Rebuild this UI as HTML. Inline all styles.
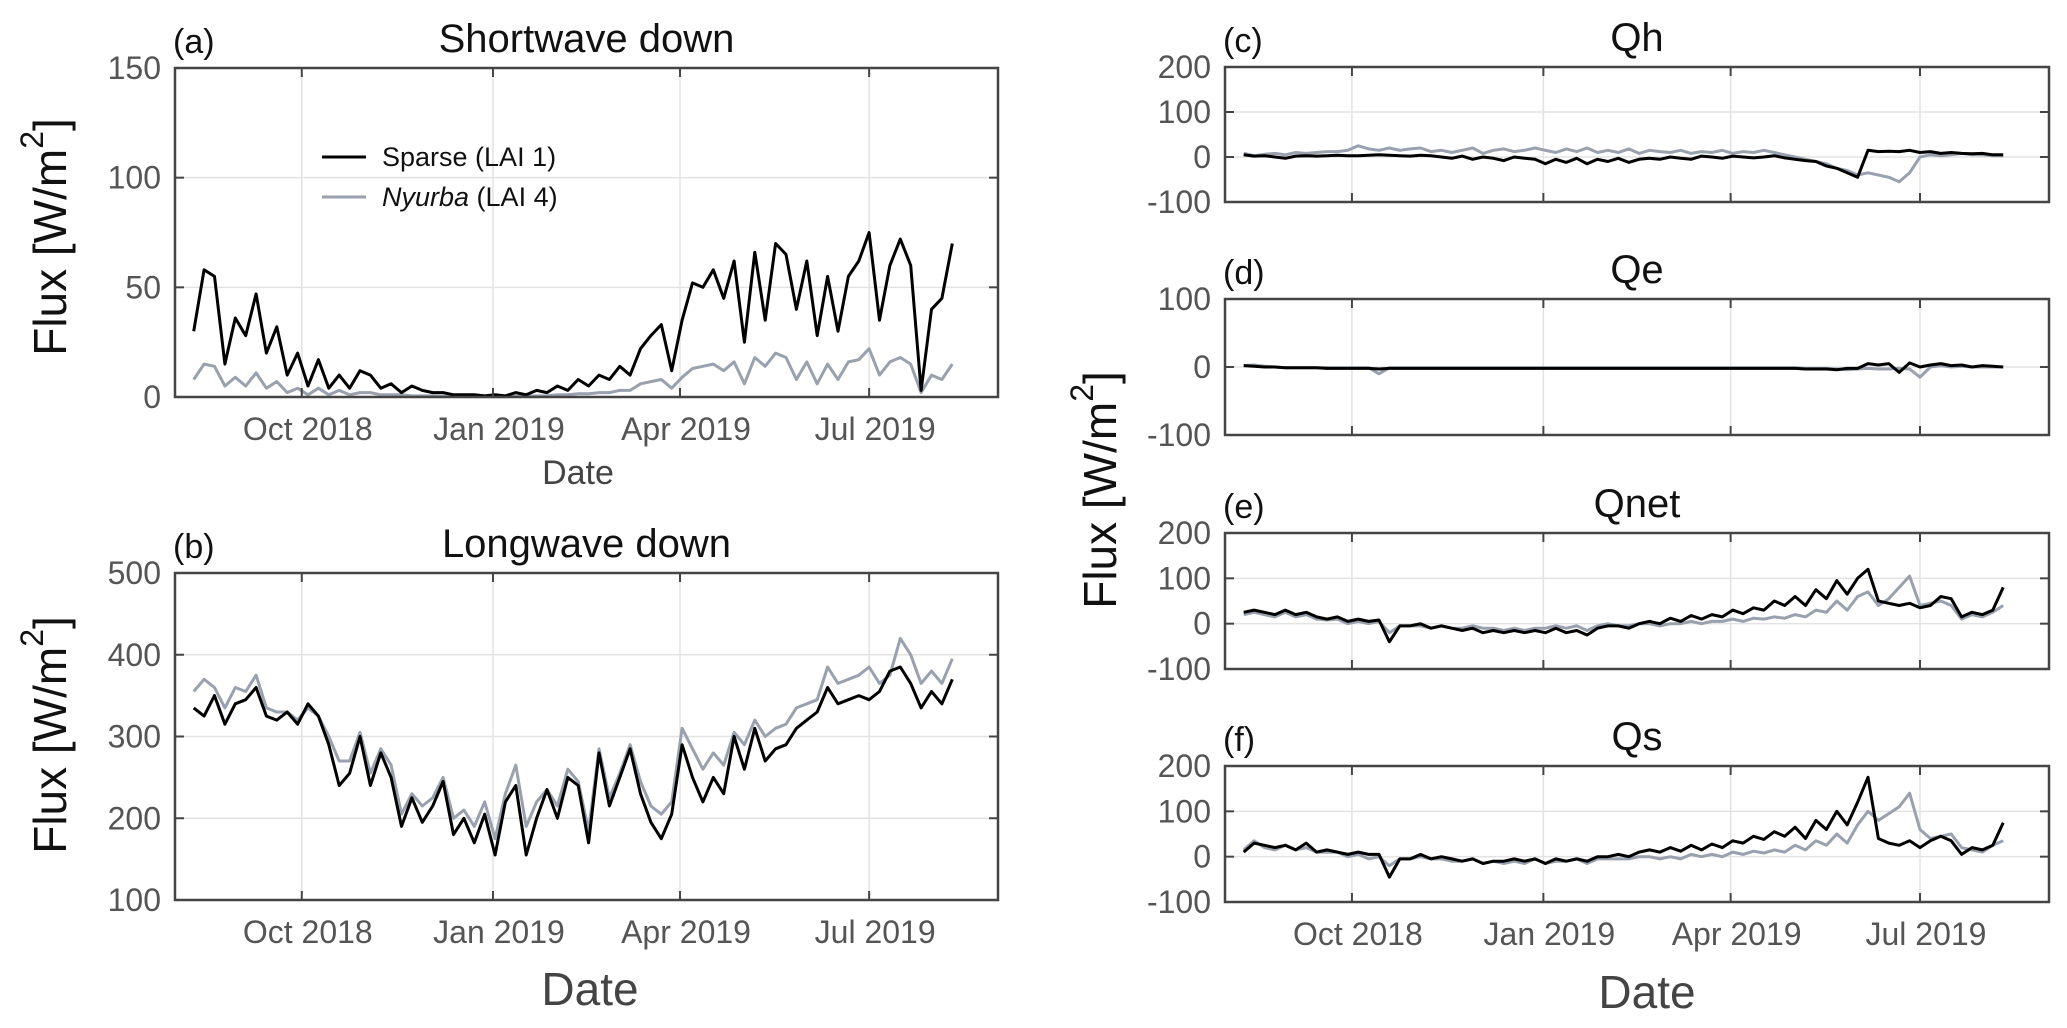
<!DOCTYPE html>
<html><head><meta charset="utf-8">
<style>
html,body{margin:0;padding:0;background:#fff;}
svg{display:block;font-family:"Liberation Sans",sans-serif;}
</style></head>
<body>
<svg id="fig" width="2067" height="1028" viewBox="0 0 2067 1028"></svg>
<script>
// ---- data (5-day samples starting 10 Aug 2018) ----
const startDay = 9; // days after 1 Aug 2018
const stepDays = 5;
const xTickLabels = ["Oct 2018","Jan 2019","Apr 2019","Jul 2019"];
const xTickDays = [61,153,243,334];
const swSparse = [30,58,55,15,36,28,47,20,32,10,20,5,17,4,10,4,12,10,4,6,2,5,3,2,2,1,1,1,0.5,1,0.5,2,1,3,2,5,3,8,5,10,8,14,10,22,28,33,12,35,52,50,58,45,62,25,66,35,70,65,40,62,28,55,30,55,62,75,35,60,72,60,3,40,45,70];
const swNyurba = [8,15,14,5,9,5,11,4,7,2,4,1,4,1,3,1,2,2,1,1,1,0.5,0.5,0.5,0.3,0.3,0.2,0.2,0.2,0.2,0.2,0.3,0.3,0.5,0.5,1,1,1.5,1.5,2,2,3,3,6,7,8,4,9,13,14,15,12,16,6,18,14,20,18,8,16,6,15,8,16,17,22,10,16,18,15,2,10,8,15];
const lwSparse = [335,325,350,315,340,345,360,325,320,330,315,340,325,290,240,255,300,240,280,250,190,225,195,215,245,180,200,170,205,155,220,240,155,200,235,200,250,240,170,280,215,250,285,230,195,175,205,290,250,220,250,230,300,260,310,270,285,290,310,320,330,360,340,345,350,345,355,380,385,365,335,355,340,370];
const lwNyurba = [355,370,360,335,360,355,375,335,330,330,320,335,325,300,270,270,305,255,285,265,205,230,215,225,250,200,210,190,220,175,230,265,190,220,235,215,260,245,185,285,225,255,290,245,215,205,220,310,285,260,280,265,305,290,320,300,310,315,335,340,345,385,365,370,375,385,365,375,420,400,365,380,365,395];
const qhSparse = [5,2,3,0,-3,2,3,2,3,4,3,3,4,5,4,3,2,4,3,0,-3,2,-5,0,-3,-8,0,-3,-5,-15,-5,-12,-3,-15,-5,-10,-3,-12,-5,-3,-5,0,-3,-5,2,0,-3,2,0,-2,0,3,-2,-5,-8,-10,-20,-25,-35,-45,15,12,13,12,15,10,12,8,10,8,7,8,5,5];
const qhNyurba = [8,3,6,8,5,10,8,10,12,12,15,25,18,15,20,15,18,20,12,15,10,15,20,8,15,18,12,15,20,15,10,18,12,20,10,15,10,18,8,15,12,10,15,8,12,10,15,8,12,10,15,10,5,0,-5,-10,-15,-25,-30,-40,-35,-40,-45,-55,-35,0,5,3,5,8,5,5,3,3];
const qeSparse = [2,1,0,0,-1,-1,-1,-1,-2,-2,-2,-2,-2,-3,-2,-2,-2,-2,-2,-2,-2,-2,-2,-2,-2,-2,-2,-2,-2,-2,-2,-2,-2,-2,-2,-2,-2,-2,-2,-2,-2,-2,-2,-2,-2,-2,-2,-2,-2,-2,-2,-2,-2,-2,-3,-3,-3,-4,-2,-2,5,3,5,-8,6,0,3,5,2,3,0,2,1,0];
const qeNyurba = [2,3,1,0,-1,-1,-1,-1,-1,-1,-1,-1,-1,-10,-1,-1,-1,-1,-1,-1,-1,-1,-1,-1,-1,-1,-1,-1,-1,-1,-1,-1,-1,-1,-1,-1,-1,-1,-1,-1,-1,-1,-1,-1,-1,-1,-1,-1,-1,-1,-1,-1,-1,-1,-2,-2,-2,-3,-4,-3,-2,-3,-3,-2,-3,-15,0,2,0,1,0,0,0,0];
const qnetSparse = [25,30,25,20,30,20,25,15,10,15,5,10,5,8,-40,-5,-5,0,-10,-5,-10,-15,-10,-20,-15,-20,-15,-20,-15,-20,-10,-20,-15,-25,-10,-5,-5,-10,0,5,0,12,5,18,10,20,15,30,22,35,30,50,40,60,40,75,55,95,65,100,120,50,45,40,45,35,40,60,55,15,25,20,30,80];
const qnetNyurba = [20,25,20,15,25,15,20,10,8,10,0,5,0,5,-20,-5,-5,-5,-10,-5,-10,-10,-5,-10,-10,-15,-10,-15,-10,-10,-5,-10,-5,-15,-5,0,-5,-5,0,0,-5,0,0,5,0,5,5,10,5,12,10,15,12,20,15,30,25,50,30,60,70,40,55,80,105,40,45,50,40,10,20,15,25,40];
const qsSparse = [10,30,25,20,25,15,30,10,15,10,5,10,5,5,-45,-5,-5,5,-5,0,-5,-10,-5,-15,-10,-10,-5,-10,-5,-15,-5,-10,-5,-10,0,0,5,0,10,15,10,20,12,25,15,28,20,35,30,45,38,55,45,65,40,80,60,100,70,120,175,40,30,25,35,20,35,45,35,5,20,15,25,75];
const qsNyurba = [15,35,20,15,25,15,20,10,10,10,0,5,-5,0,-20,-5,-5,0,-5,-5,-10,-10,-5,-15,-10,-15,-10,-15,-5,-15,-10,-10,-5,-15,-5,-5,-5,-5,0,0,-5,0,-5,5,0,5,0,10,5,12,8,15,10,25,15,35,25,50,30,70,100,80,95,110,140,60,40,45,50,20,15,10,25,35];
const swTicks = [0,50,100,150];
const lwTicks = [100,200,300,400,500];
const qhTicks = [-100,0,100,200];
const qeTicks = [-100,0,100];

const NS = "http://www.w3.org/2000/svg";
const svg = document.getElementById("fig");
function mk(tag, attrs, parent){
  const e = document.createElementNS(NS, tag);
  for (const k in attrs) e.setAttribute(k, attrs[k]);
  (parent||svg).appendChild(e);
  return e;
}
function txt(s, x, y, size, color, anchor, name, extra){
  const t = mk("text", {x:x, y:y, "font-size":size, fill:color, "text-anchor":anchor||"start", "dominant-baseline":"central"});
  t.textContent = s;
  
  
  if (extra) for (const k in extra) t.setAttribute(k, extra[k]);
  return t;
}

function panel(p){
  const g = mk("g", {});
  
  
  const W = p.x1 - p.x0, H = p.y1 - p.y0;
  const xs = d => p.x0 + d * W / 396;
  const ys = v => p.y1 - (v - p.ymin) / (p.ymax - p.ymin) * H;
  xTickDays.forEach((d,i) => {
    const l = mk("line", {x1:xs(d), x2:xs(d), y1:p.y0, y2:p.y1, stroke:"#e3e3e3", "stroke-width":1.5}, g);
    
    
  });
  p.ticks.forEach(v => {
    const l = mk("line", {x1:p.x0, x2:p.x1, y1:ys(v), y2:ys(v), stroke:"#e3e3e3", "stroke-width":1.5}, g);
    
    
  });
  [[p.grey,"#98a1ad","nyurba-line"],[p.black,"#000","sparse-line"]].forEach(s => {
    const pts = s[0].map((v,i) => xs(startDay + i*stepDays).toFixed(1) + "," + ys(v).toFixed(1)).join(" ");
    const pl = mk("polyline", {points:pts, fill:"none", stroke:s[1], "stroke-width":3, "stroke-linejoin":"round"}, g);
    
    
  });
  xTickDays.forEach(d => {
    mk("line", {x1:xs(d), x2:xs(d), y1:p.y1, y2:p.y1-9, stroke:"#444", "stroke-width":2}, g);
    mk("line", {x1:xs(d), x2:xs(d), y1:p.y0, y2:p.y0+9, stroke:"#444", "stroke-width":2}, g);
  });
  p.ticks.forEach(v => {
    mk("line", {x1:p.x0, x2:p.x0+9, y1:ys(v), y2:ys(v), stroke:"#444", "stroke-width":2}, g);
    mk("line", {x1:p.x1, x2:p.x1-9, y1:ys(v), y2:ys(v), stroke:"#444", "stroke-width":2}, g);
    txt(String(v), p.x0 - 14, ys(v), 32, "#555", "end", "y-tick-label");
  });
  const box = mk("rect", {x:p.x0, y:p.y0, width:W, height:H, fill:"none", stroke:"#444", "stroke-width":2.5}, g);
  
  
  if (p.xlabels){
    xTickDays.forEach((d,i) => txt(xTickLabels[i], xs(d)+6, p.y1 + 32, 32, "#555", "middle", "x-tick-label"));
  }
  txt(p.letter, p.x0 - 2, p.y0 - 26, 34, "#111", "start", "panel-label");
  txt(p.title, (p.x0+p.x1)/2, p.y0 - 29, 40, "#111", "middle", "panel-title");
}

panel({name:"shortwave-panel", x0:175, x1:998, y0:68, y1:397, ymin:0, ymax:150, ticks:swTicks, black:swSparse, grey:swNyurba, xlabels:true, letter:"(a)", title:"Shortwave down"});
panel({name:"longwave-panel", x0:175, x1:998, y0:573, y1:900, ymin:100, ymax:500, ticks:lwTicks, black:lwSparse, grey:lwNyurba, xlabels:true, letter:"(b)", title:"Longwave down"});
panel({name:"qh-panel", x0:1225, x1:2049, y0:67, y1:202, ymin:-100, ymax:200, ticks:qhTicks, black:qhSparse, grey:qhNyurba, xlabels:false, letter:"(c)", title:"Qh"});
panel({name:"qe-panel", x0:1225, x1:2049, y0:299, y1:435, ymin:-100, ymax:100, ticks:qeTicks, black:qeSparse, grey:qeNyurba, xlabels:false, letter:"(d)", title:"Qe"});
panel({name:"qnet-panel", x0:1225, x1:2049, y0:533, y1:669, ymin:-100, ymax:200, ticks:qhTicks, black:qnetSparse, grey:qnetNyurba, xlabels:false, letter:"(e)", title:"Qnet"});
panel({name:"qs-panel", x0:1225, x1:2049, y0:766, y1:902, ymin:-100, ymax:200, ticks:qhTicks, black:qsSparse, grey:qsNyurba, xlabels:true, letter:"(f)", title:"Qs"});

txt("Date", 578, 473, 34, "#444", "middle", "x-axis-title-a");
txt("Date", 590, 989, 46, "#444", "middle", "x-axis-title-b");
txt("Date", 1647, 992, 46, "#444", "middle", "x-axis-title-right");
function ylab(x, y, name){
  const t = txt("Flux [W/m", 0, 0, 46, "#111", "middle", name, {transform:"translate("+x+","+y+") rotate(-90)"});
  const s1 = document.createElementNS(NS,"tspan"); s1.setAttribute("baseline-shift","super"); s1.setAttribute("font-size","32"); s1.textContent="2"; t.appendChild(s1);
  const s2 = document.createElementNS(NS,"tspan"); s2.textContent="]"; t.appendChild(s2);
}
ylab(50, 237, "y-axis-title-a");
ylab(50, 735, "y-axis-title-b");
ylab(1100, 490, "y-axis-title-right");

const leg = mk("g", {});


mk("line", {x1:322, x2:366, y1:157, y2:157, stroke:"#000", "stroke-width":3}, leg);
mk("line", {x1:322, x2:366, y1:197, y2:197, stroke:"#98a1ad", "stroke-width":3}, leg);
txt("Sparse (LAI 1)", 382, 157, 27, "#111", "start", "legend-entry-sparse");
const l2 = txt("", 382, 197, 27, "#111", "start", "legend-entry-nyurba");
const it = document.createElementNS(NS,"tspan"); it.setAttribute("font-style","italic"); it.textContent="Nyurba"; l2.appendChild(it);
const rest = document.createElementNS(NS,"tspan"); rest.textContent=" (LAI 4)"; l2.appendChild(rest);
</script>
</body></html>
